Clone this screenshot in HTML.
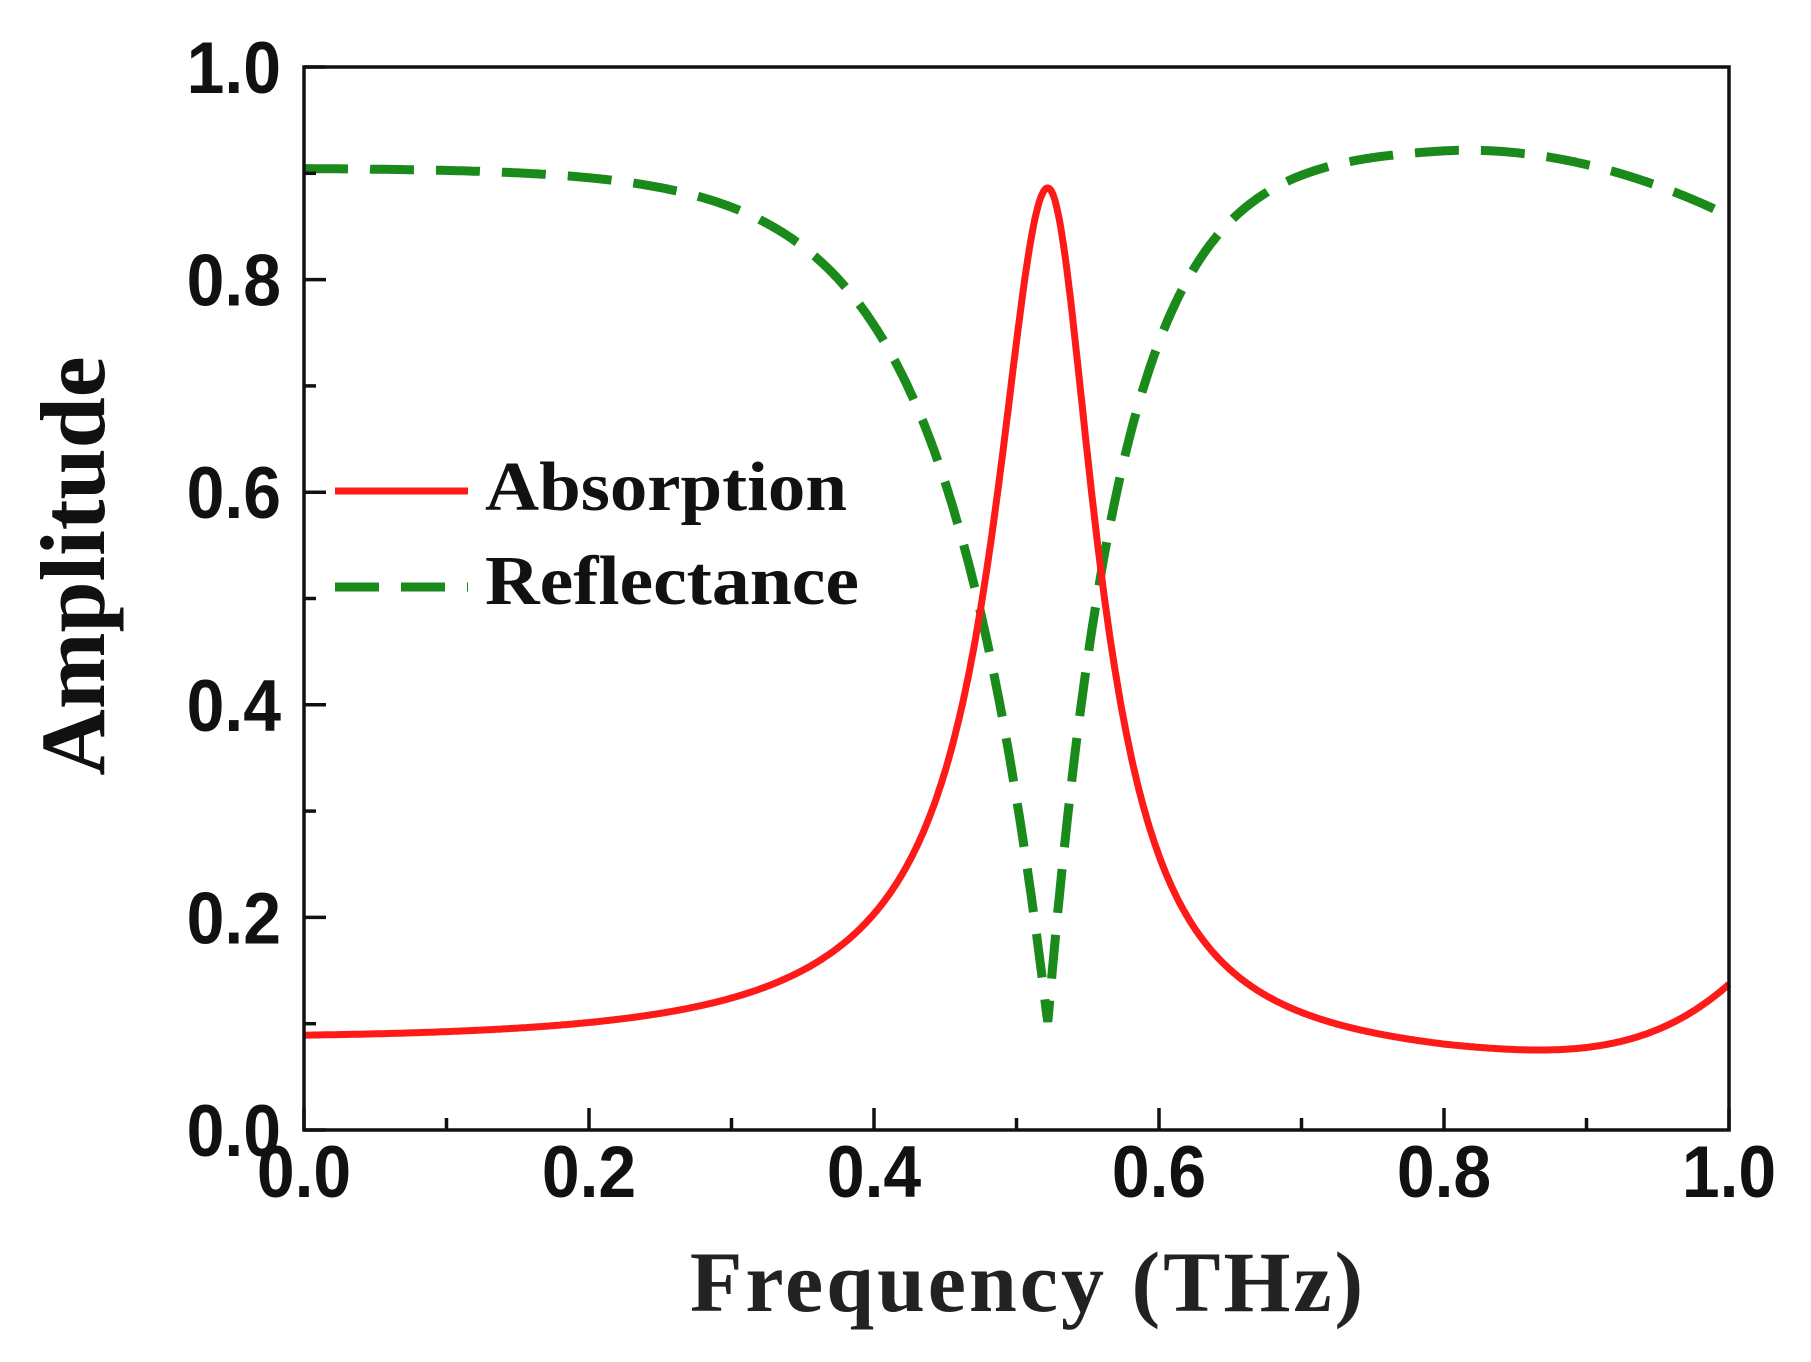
<!DOCTYPE html>
<html><head><meta charset="utf-8"><style>
html,body{margin:0;padding:0;background:#fff;}
svg{display:block}
</style></head><body>
<svg id="s" width="1811" height="1362" xmlns="http://www.w3.org/2000/svg">
<rect width="1811" height="1362" fill="#fff"/>
<g id="curves"></g>
<rect x="304" y="67" width="1425" height="1063" fill="none" stroke="#111" stroke-width="3.5"/>
<g id="ticks" stroke="#111" stroke-width="3.5"></g>
<g font-family="Liberation Sans, Arial, sans-serif" font-weight="bold" font-size="73" fill="#111" id="labels"></g>
<text x="1028" y="1311" text-anchor="middle" font-family="Liberation Serif, serif" font-weight="bold" font-size="86" fill="#222" letter-spacing="3">Frequency (THz)</text>
<text transform="translate(104,566) rotate(-90)" text-anchor="middle" font-family="Liberation Serif, serif" font-weight="bold" font-size="92" fill="#111">Amplitude</text>
<line x1="335" y1="491" x2="468" y2="491" stroke="#ff1a1a" stroke-width="7"/>
<line x1="335" y1="587" x2="468" y2="587" stroke="#1a8a1a" stroke-width="9" stroke-dasharray="44,22"/>
<text x="485" y="510" font-family="Liberation Serif, serif" font-weight="bold" font-size="70" fill="#111" textLength="362" lengthAdjust="spacingAndGlyphs">Absorption</text>
<text x="485" y="604" font-family="Liberation Serif, serif" font-weight="bold" font-size="70" fill="#111" textLength="374" lengthAdjust="spacingAndGlyphs">Reflectance</text>
</svg>
<script>
var X0=304,W=1425,Y0=1130,H=1063;
function px(f){return X0+f*W}function py(v){return Y0-v*H}
var t=document.getElementById('ticks'),lb=document.getElementById('labels'),h='',l='';
for(var i=0;i<=10;i++){var f=i/10,maj=i%2==0,len=maj?22:12;
 h+='<line x1="'+px(f)+'" y1="'+Y0+'" x2="'+px(f)+'" y2="'+(Y0-len)+'"/>';
 h+='<line x1="'+X0+'" y1="'+py(f)+'" x2="'+(X0+len)+'" y2="'+py(f)+'"/>';
 if(maj){l+='<text transform="translate('+px(f)+',1197) scale(0.93,1)" text-anchor="middle">'+f.toFixed(1)+'</text>';
 l+='<text transform="translate(281,'+(py(f)+26)+') scale(0.93,1)" text-anchor="end">'+f.toFixed(1)+'</text>';}}
t.innerHTML=h;lb.innerHTML=l;
var f0=0.522,pa='',pr='';
for(var k=0;k<=1000;k++){var f=k/1000,d=f-f0;
 var g1=d<0?0.045:0.04,g2=d<0?0.15:0.08,h2=0.075;
 var b=0.078-0.018*Math.min(f/0.8,1)+0.07*Math.pow(Math.max(0,(f-0.8)/0.2),3.5);
 var A=b+0.745/(1+(d/g1)*(d/g1))+h2/(1+(d/g2)*(d/g2));
 var w=d<0?0.072:0.052;
 var base=d<0?0.905:(0.925-0.065*Math.pow(Math.max(0,(f-0.8)/0.2),2));
 var R=base*(1-0.89*Math.exp(-Math.abs(d)/w));
 pa+=(k?'L':'M')+px(f).toFixed(1)+','+py(A).toFixed(1);
 pr+=(k?'L':'M')+px(f).toFixed(1)+','+py(R).toFixed(1);}
document.getElementById('curves').innerHTML='<path d="'+pr+'" fill="none" stroke="#1a8a1a" stroke-width="9" stroke-dasharray="44,22"/><path d="'+pa+'" fill="none" stroke="#ff1a1a" stroke-width="7" stroke-linejoin="round"/>';
</script>
</body></html>
